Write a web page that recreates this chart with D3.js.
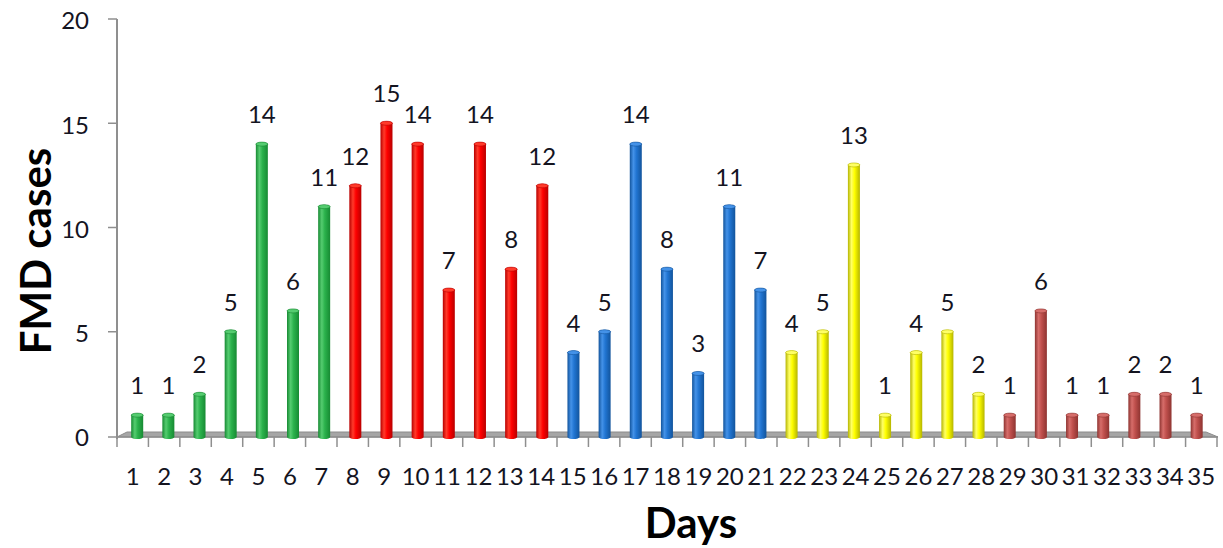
<!DOCTYPE html>
<html>
<head>
<meta charset="utf-8">
<script src="https://cdn.jsdelivr.net/npm/d3@7"></script>
<style>
  body { margin: 0; background: #fff; }
  text { font-family: Lato, "Open Sans", sans-serif; fill: #14141f; }
</style>
</head>
<body>
<div id="chart"></div>
<script>
// data
const days = ["1","2","3","4","5","6","7","8","9","10","11","12","13","14","15","16","17","18",
              "19","20","21","22","23","24","25","26","27","28","29","30","31","32","33","34","35"];
const cases = [1, 1, 2, 5, 14, 6, 11,
               12, 15, 14, 7, 14, 8, 12,
               4, 5, 14, 8, 3, 11, 7,
               4, 5, 13, 1, 4, 5, 2,
               1, 6, 1, 1, 2, 2, 1];
const weekOfDay = [0,0,0,0,0,0,0, 1,1,1,1,1,1,1, 2,2,2,2,2,2,2, 3,3,3,3,3,3,3, 4,4,4,4,4,4,4];
const yTicks = [0, 5, 10, 15, 20];

// colours per week: [dark edge, base, highlight]
const weekColors = [
    ["#178a33", "#2bb24c", "#55cc70"],
    ["#b80000", "#ff0000", "#ff3a2a"],
    ["#12549c", "#2175d2", "#4492e8"],
    ["#b5b500", "#ffff00", "#ffff66"],
    ["#8e3431", "#c0504d", "#d66d6a"]
];

const width = 1223;
const height = 548;

const svg = d3.select("#chart")
    .append("svg")
    .attr("width", width)
    .attr("height", height);

const x = d3.scaleBand()
    .domain(days)
    .range([117, 1217])
    .padding(0);

const y = d3.scaleLinear()
    .domain([0, 20])
    .range([436, 19]);

const vanishX = 660;
const depthShift = 0.0085;
const barW = 12;

// gradients for the cylinder look
const defs = svg.append("defs");
weekColors.forEach((c, i) => {
    const g = defs.append("linearGradient")
        .attr("id", "cyl" + i)
        .attr("x1", "0%").attr("x2", "100%")
        .attr("y1", "0%").attr("y2", "0%");
    g.append("stop").attr("offset", "0%").attr("stop-color", c[0]);
    g.append("stop").attr("offset", "30%").attr("stop-color", c[2]);
    g.append("stop").attr("offset", "55%").attr("stop-color", c[1]);
    g.append("stop").attr("offset", "100%").attr("stop-color", c[0]);
});

// floor (3d base)
const y0 = y(0) + 1;
svg.append("path")
    .attr("d", `M117,${y0} L127,${y0 - 5} L1206,${y0 - 5} L1218,${y0} Z`)
    .style("fill", "#a6a6a6")
    .style("stroke", "#8c8c8c")
    .style("stroke-width", 1);

// y axis
const yAxis = svg.append("g");
yAxis.append("line")
    .attr("x1", 117).attr("x2", 117)
    .attr("y1", y(20)).attr("y2", y0 + 2)
    .style("stroke", "#8f8f8f")
    .style("stroke-width", 2);
yAxis.selectAll(".ytick")
    .data(yTicks)
    .enter().append("line")
    .attr("x1", 108).attr("x2", 117)
    .attr("y1", d => d === 0 ? y0 : y(d))
    .attr("y2", d => d === 0 ? y0 : y(d))
    .style("stroke", "#8f8f8f")
    .style("stroke-width", 1.5);
yAxis.selectAll(".ylab")
    .data(yTicks)
    .enter().append("text")
    .attr("x", 89)
    .attr("y", d => y(d) + 2)
    .attr("dy", "0.35em")
    .attr("text-anchor", "end")
    .style("font-size", "24px")
    .text(d => d);

// x axis
const xAxis = svg.append("g");
xAxis.append("line")
    .attr("x1", 117).attr("x2", 1218)
    .attr("y1", y0).attr("y2", y0)
    .style("stroke", "#8f8f8f")
    .style("stroke-width", 1.5);
xAxis.selectAll(".xtick")
    .data(days.concat(["end"]))
    .enter().append("line")
    .attr("x1", (d, i) => 117 + i * x.bandwidth())
    .attr("x2", (d, i) => 117 + i * x.bandwidth())
    .attr("y1", y0).attr("y2", y0 + 10)
    .style("stroke", "#8f8f8f")
    .style("stroke-width", 1.5);
xAxis.selectAll(".xlab")
    .data(days)
    .enter().append("text")
    .attr("x", d => x(d) + x.bandwidth() / 2)
    .attr("y", 485)
    .attr("text-anchor", "middle")
    .style("font-size", "24px")
    .text(d => d);

// bars
function barCenter(d) {
    const c = x(d) + x.bandwidth() / 2;
    return c + (vanishX - c) * depthShift;
}

const bars = svg.append("g")
    .selectAll("g")
    .data(days)
    .enter().append("g");

bars.append("path")
    .attr("d", (d, i) => {
        const cx = barCenter(d);
        const top = y(cases[i]);
        const l = cx - barW / 2, r = cx + barW / 2;
        return `M${l},${y0} L${l},${top} A${barW / 2},2 0 0 1 ${r},${top} L${r},${y0} A${barW / 2},2 0 0 1 ${l},${y0} Z`;
    })
    .style("fill", (d, i) => `url(#cyl${weekOfDay[i]})`);

bars.append("ellipse")
    .attr("cx", d => barCenter(d))
    .attr("cy", (d, i) => y(cases[i]))
    .attr("rx", barW / 2)
    .attr("ry", 2)
    .style("fill", (d, i) => weekColors[weekOfDay[i]][2])
    .style("stroke", (d, i) => weekColors[weekOfDay[i]][0])
    .style("stroke-width", 0.6);

// data labels
bars.append("text")
    .attr("x", d => barCenter(d))
    .attr("y", (d, i) => y(cases[i]) - 21)
    .attr("text-anchor", "middle")
    .style("font-size", "24px")
    .text((d, i) => cases[i]);

// axis titles
svg.append("text")
    .attr("transform", "translate(51, 251) rotate(-90)")
    .attr("text-anchor", "middle")
    .style("font-size", "42px")
    .style("font-weight", "bold")
    .style("fill", "#000")
    .text("FMD cases");

svg.append("text")
    .attr("x", 691)
    .attr("y", 538)
    .attr("text-anchor", "middle")
    .style("font-size", "42px")
    .style("font-weight", "bold")
    .style("fill", "#000")
    .text("Days");
</script>
</body>
</html>
